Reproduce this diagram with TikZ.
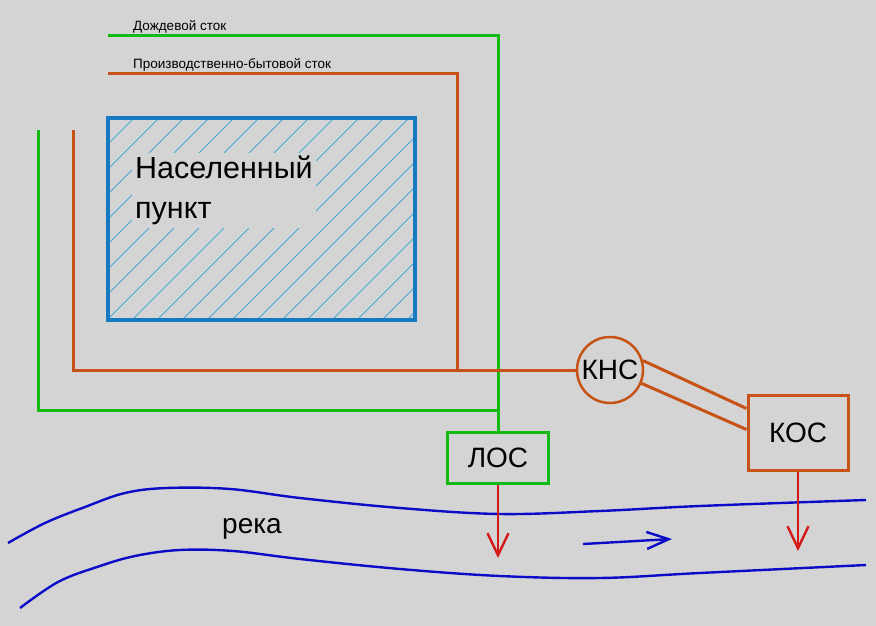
\documentclass[tikz,border=0pt]{standalone}
\usepackage{fontspec}
\setmainfont{Liberation Sans}
\usetikzlibrary{arrows.meta,calc}
\definecolor{fon}{RGB}{212,212,212}
\definecolor{dozhd}{RGB}{20,185,20}
\definecolor{byt}{RGB}{198,82,22}
\definecolor{gorod}{RGB}{22,122,192}
\definecolor{shtrih}{RGB}{70,165,210}
\definecolor{voda}{RGB}{12,12,200}
\definecolor{sbros}{RGB}{212,24,24}

\begin{document}
\begin{tikzpicture}[x=1pt,y=-1pt,
    rain/.style={draw=dozhd,line width=3pt},
    sewer/.style={draw=byt,line width=3pt},
    hatch/.style={draw=shtrih,line width=0.8pt},
    river/.style={draw=voda,line width=2.4pt},
    drop/.style={draw=sbros,line width=2.4pt,-{Straight Barb[length=22pt,width=21pt]}},
    big/.style={font=\fontsize{28}{38}\selectfont},
    small/.style={font=\fontsize{13.5}{15}\selectfont}]
        \fill[fon] (0,0) rectangle (876,626);
        % shtrihovka naselennogo punkta
        \begin{scope}
            \clip (108,118) rectangle (415,320);
            \foreach \i in {-220,-195,...,420} \draw[hatch] (\i,322) -- ++(214,-214);
        \end{scope}
        \node[draw=gorod,line width=4pt,minimum width=307pt,minimum height=202pt] (town) at (261.5,219) {};
        \node[fill=fon,align=left,anchor=north west,inner sep=3pt,font=\fontsize{30.5}{40}\selectfont] (townname) at (132,153) {Населенный\\пункт};
        % ochistnye sooruzheniya
        \node[big,draw=dozhd,line width=3pt,minimum width=101pt,minimum height=51pt,inner sep=0pt] (los) at (498,457.5) {ЛОС};
        \node[big,draw=byt,line width=2.5pt,circle,minimum size=66pt,inner sep=0pt] (kns) at (610,370) {КНС};
        \node[big,draw=byt,line width=3pt,minimum width=100pt,minimum height=75pt,inner sep=0pt] (kos) at (798,432.5) {КОС};
        % seti
        \coordinate (r1) at (108,36);
        \coordinate (r2) at (38,130);
        \coordinate (rj) at (498,410);
        \coordinate (s1) at (108,74);
        \coordinate (s2) at (73,130);
        \coordinate (s3) at (457,370);
        \draw[rain] (r1) -| (los.north);
        \draw[rain] (r2) |- (rj);
        \draw[sewer] (s1) -| (s3);
        \draw[sewer] (s2) |- (kns.west);
        \draw[sewer] (kns.16) -- ([yshift=24pt]kos.west);
        \draw[sewer] (kns.-23) -- ([yshift=3pt]kos.west);
        \node[small,anchor=base west,inner sep=0pt] (rainlabel) at (133,31) {Дождевой сток};
        \node[small,anchor=base west,inner sep=0pt] (sewerlabel) at (133,69) {Производственно-бытовой сток};
        % reka
        \draw[river] plot[smooth,tension=.6] coordinates {(8,543) (45,523) (85,507) (125,493) (167,488) (230,489) (300,498) (400,508) (500,514) (600,511) (700,506) (866,500)};
        \draw[river] plot[smooth,tension=.6] coordinates {(20,608) (58,582) (97,567) (135,556) (180,550) (233,551) (300,559) (400,569) (500,576) (600,578) (700,573) (866,565)};
        \node[big,anchor=base west,inner sep=0pt] (reka) at (222,533) {река};
        \coordinate (f1) at (583,544);
        \coordinate (f2) at (672,539);
        \draw[river,-{Straight Barb[length=22pt,width=17pt]}] (f1) -- (f2);
        % sbros v reku
        \coordinate (d1) at (498,558);
        \coordinate (d2) at (798,551);
        \draw[drop] (los.south) -- (d1);
        \draw[drop] (kos.south) -- (d2);
\end{tikzpicture}
\end{document}
